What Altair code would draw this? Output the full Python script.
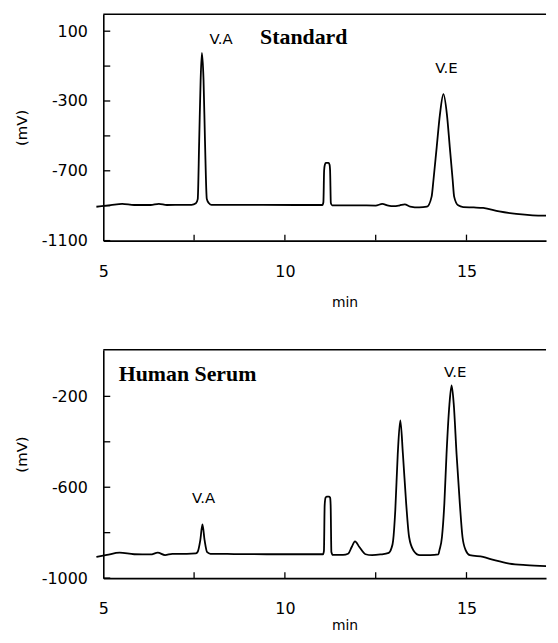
import altair as alt
import pandas as pd

# ---------------- data ----------------
# Standard chromatogram (time in min, signal in mV)
std_t = [4.81, 5.2, 5.52, 5.85, 6.3, 6.53, 6.75, 7.2, 7.43, 7.55, 7.60, 7.64, 7.68, 7.715,
         7.76, 7.80, 7.85, 7.91, 7.98, 8.6, 9.4, 10.3, 11.03, 11.06, 11.08, 11.10, 11.13,
         11.20, 11.23, 11.245, 11.265, 11.30, 12.0, 12.5, 12.68, 12.85, 13.0, 13.15, 13.30,
         13.45, 13.7, 13.91, 14.04, 14.09, 14.18, 14.27, 14.365, 14.46, 14.54, 14.62, 14.66,
         14.77, 14.91, 15.2, 15.46, 15.90, 16.37, 16.82, 17.19]
std_mv = [-906, -897, -889, -896, -896, -889, -896, -895, -895, -886, -862, -530, -180, -25,
          -180, -530, -862, -886, -895, -895, -895, -896, -896, -880, -700, -665, -655,
          -655, -665, -700, -885, -898, -898, -899, -890, -900, -903, -899, -892,
          -905, -910, -906, -848, -754, -564, -375, -261, -375, -564, -754, -848,
          -898, -908, -910, -913, -933, -947, -955, -957]

# Human serum chromatogram
ser_t = [4.81, 5.1, 5.45, 5.85, 6.3, 6.5, 6.7, 6.9, 7.3, 7.55, 7.60, 7.67, 7.73, 7.79,
         7.86, 7.95, 8.6, 9.5, 10.4, 11.05, 11.075, 11.095, 11.12, 11.15, 11.22, 11.245,
         11.26, 11.28, 11.32, 11.6, 11.74, 11.84, 11.93, 12.05, 12.22, 12.4, 12.63, 12.86,
         12.93, 12.98, 13.04, 13.107, 13.178, 13.25, 13.34, 13.42, 13.54, 13.716, 14.0,
         14.227, 14.254, 14.325, 14.39, 14.45, 14.53, 14.59, 14.65, 14.727, 14.817, 14.89,
         14.98, 15.09, 15.456, 15.77, 16.18, 16.64, 17.19]
ser_mv = [-907, -898, -888, -895, -896, -888, -899, -893, -893, -891, -884, -834, -764, -834,
          -886, -893, -894, -895, -895, -895, -880, -680, -646, -641, -641, -646,
          -680, -885, -898, -898, -893, -863, -838, -863, -895, -899, -896, -889,
          -870, -835, -700, -455, -306, -455, -673, -819, -878, -899, -899,
          -896, -878, -819, -673, -455, -236, -152, -236, -455, -673, -819,
          -878, -899, -907, -921, -936, -943, -947]

# peak labels
std_lbl = ["V.A", "V.E"]
std_lbl_t = [8.24, 14.45]
std_lbl_mv = [53, -112]
ser_lbl = ["V.A", "V.E"]
ser_lbl_t = [7.76, 14.69]
ser_lbl_mv = [-648, -95]

# panel titles
std_title = ["Standard"]
std_title_t = [10.52]
std_title_mv = [25]
ser_title = ["Human Serum"]
ser_title_t = [7.32]
ser_title_mv = [-134]

# axes
x_domain = [5, 17.19]
x_labels = [5, 10, 15]
x_ticks = [7.5, 10, 12.5, 15]
std_domain = [-1100, 197]
std_ylabels = [100, -300, -700, -1100]
std_yticks = [100, -100, -300, -500, -700, -900, -1100]
ser_domain = [-1000, 5]
ser_ylabels = [-200, -600, -1000]
ser_yticks = [-200, -400, -600, -800, -1000]

W = 446
FONT = "DejaVu Sans"


def panel(t, mv, ydom, ylabels, yticks, lbl, lbl_t, lbl_mv, ttl, ttl_t, ttl_mv, H, title_y, xtitle_y):
    xs = alt.Scale(domain=x_domain, nice=False, zero=False)
    ys = alt.Scale(domain=ydom, nice=False, zero=False)
    df = pd.DataFrame({"t": t, "mv": mv})
    line = alt.Chart(df).mark_line(color="black", strokeWidth=1.8, interpolate="monotone").encode(
        x=alt.X("t:Q", scale=xs,
                axis=alt.Axis(values=x_labels, tickSize=0, labelPadding=36, labelBaseline="alphabetic",
                              labelFlush=False, labelFont=FONT, labelFontSize=16,
                              labelExpr="'' + datum.value",
                              title="min", titleFont=FONT, titleFontSize=14, titleFontWeight="normal",
                              titleX=243, titleY=xtitle_y, titleAlign="center", titleBaseline="alphabetic",
                              domainColor="black", domainWidth=1.6, grid=False)),
        y=alt.Y("mv:Q", scale=ys,
                axis=alt.Axis(values=ylabels, tickSize=0, labelPadding=16, labelFont=FONT,
                              labelFontSize=16, labelExpr="'' + datum.value",
                              title="(mV)", titleFont=FONT, titleFontSize=15,
                              titleFontWeight="normal", titleX=-82, titleY=title_y,
                              titleBaseline="middle", titleAlign="center",
                              domainColor="black", domainWidth=1.6, grid=False)),
    )
    ytk = alt.Chart(pd.DataFrame({"mv": yticks})).mark_rule(color="black", strokeWidth=1.3).encode(
        y=alt.Y("mv:Q", scale=ys), x=alt.value(0), x2=alt.value(7))
    xtk = alt.Chart(pd.DataFrame({"t": x_ticks})).mark_rule(color="black", strokeWidth=1.3).encode(
        x=alt.X("t:Q", scale=xs), y=alt.value(H), y2=alt.value(H - 6))
    top = alt.Chart(pd.DataFrame({"a": [0]})).mark_rule(color="black", strokeWidth=1.6).encode(
        x=alt.value(0), x2=alt.value(W), y=alt.value(0))
    labels = alt.Chart(pd.DataFrame({"t": lbl_t, "mv": lbl_mv, "s": lbl})).mark_text(
        font=FONT, fontSize=15, color="black", baseline="middle", align="center").encode(
        x=alt.X("t:Q", scale=xs), y=alt.Y("mv:Q", scale=ys), text="s:N")
    title = alt.Chart(pd.DataFrame({"t": ttl_t, "mv": ttl_mv, "s": ttl})).mark_text(
        font="Liberation Serif", fontSize=22, fontWeight="bold", color="black",
        baseline="alphabetic", align="center").encode(
        x=alt.X("t:Q", scale=xs), y=alt.Y("mv:Q", scale=ys), text="s:N")
    return alt.layer(line, ytk, xtk, top, labels, title).properties(width=W, height=H)


p1 = panel(std_t, std_mv, std_domain, std_ylabels, std_yticks, std_lbl, std_lbl_t, std_lbl_mv,
           std_title, std_title_t, std_title_mv, 228, 114, 66)
p2 = panel(ser_t, ser_mv, ser_domain, ser_ylabels, ser_yticks, ser_lbl, ser_lbl_t, ser_lbl_mv,
           ser_title, ser_title_t, ser_title_mv, 230, 105, 52)

chart = alt.vconcat(p1, p2, spacing=40).properties(
    padding={"left": 7, "top": 3, "right": 0, "bottom": 0},
    background="white",
).configure_view(stroke=None).configure_axis(labelColor="black", titleColor="black")

chart.save("out.html", embed_options={"renderer": "svg", "actions": False})
